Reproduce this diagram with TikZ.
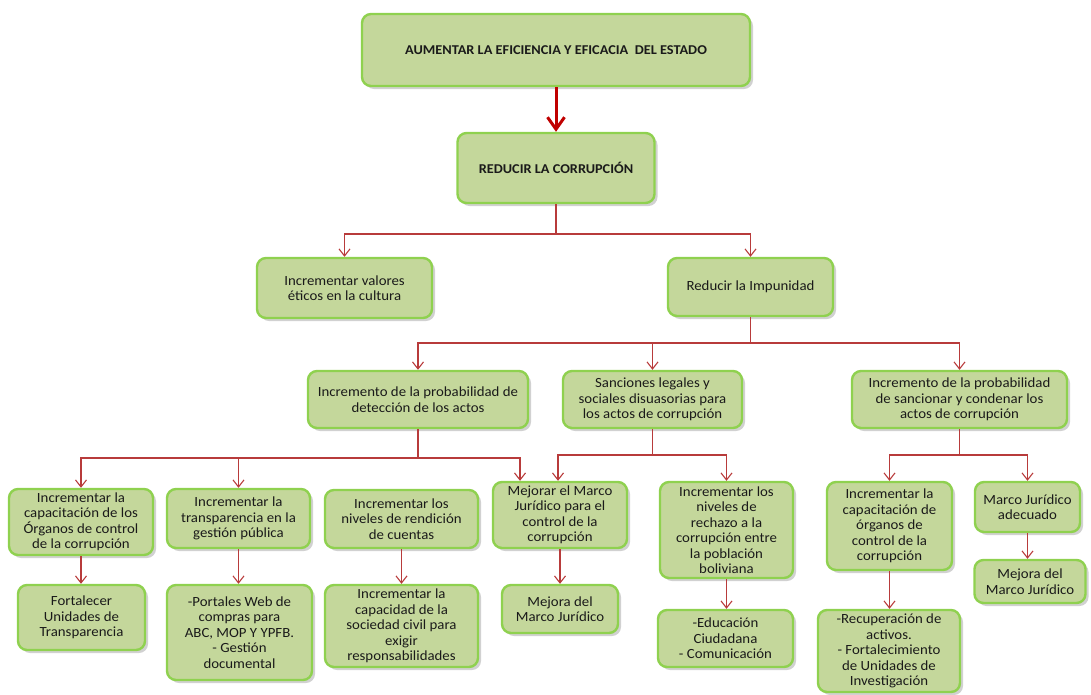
\documentclass[tikz,border=0pt]{standalone}
\usepackage{fontspec}
\setmainfont{Carlito}[FakeStretch=1.06]
\usetikzlibrary{arrows.meta,shadows}
\definecolor{boxfill}{HTML}{C4D79B}
\definecolor{boxline}{HTML}{8FD14F}
\definecolor{connred}{HTML}{B83B3B}
\definecolor{mainred}{HTML}{C00000}
\definecolor{txt}{HTML}{1A1A1A}
\tikzset{
  box/.style={draw=boxline, fill=boxfill, line width=2.4pt, rounded corners=9pt,
    align=center, inner sep=1pt, text=txt,
    font=\fontsize{14}{15.5}\selectfont,
    drop shadow={shadow xshift=3pt, shadow yshift=-3pt, opacity=0.3, fill=black!60}},
  titlebox/.style={box, font=\fontsize{13.5}{15}\selectfont\bfseries},
  wh/.style 2 args={minimum width=#1pt, minimum height=#2pt},
  conn/.style={draw=connred, line width=1.1pt,
    -{Straight Barb[length=7pt,width=11pt,line width=1.1pt]}},
  mainarrow/.style={draw=mainred, line width=3pt,
    -{Straight Barb[length=12pt,width=17pt,line width=3pt]}},
}
\begin{document}
\begin{tikzpicture}[x=1pt,y=-1pt]
\useasboundingbox (0,0) rectangle (1091,694);

% top levels
\node[titlebox, wh={388}{72}] (estado) at (556,50) {AUMENTAR LA EFICIENCIA Y EFICACIA\ \ DEL ESTADO};
\node[titlebox, wh={197}{70}] (corrup) at (556,168) {REDUCIR LA CORRUPCIÓN};

% second level
\node[box, wh={175}{60}] (valores) at (344.5,288) {Incrementar valores\\éticos en la cultura};
\node[box, wh={165}{58}] (impunidad) at (750.5,287) {Reducir la Impunidad};

% third level
\node[box, wh={220}{57}] (deteccion) at (418,399.5) {Incremento de la probabilidad de\\detección de los actos};
\node[box, wh={179}{57}] (sanciones) at (652.5,399.5) {Sanciones legales y\\sociales disuasorias para\\los actos de corrupción};
\node[box, wh={215}{57}] (sancionar) at (959.5,399.5) {Incremento de la probabilidad\\de sancionar y condenar los\\actos de corrupción};

% fourth level
\node[box, wh={144}{66}] (capac) at (81,522) {Incrementar la\\capacitación de los\\Órganos de control\\de la corrupción};
\node[box, wh={143}{59}] (transp) at (238.5,518.5) {Incrementar la\\transparencia en la\\gestión pública};
\node[box, wh={153}{58}] (rendic) at (401.5,519) {Incrementar los\\niveles de rendición\\de cuentas};
\node[box, wh={134}{66}] (mejorar) at (560,515) {Mejorar el Marco\\Jurídico para el\\control de la\\corrupción};
\node[box, wh={133}{96}] (rechazo) at (726.5,530) {Incrementar los\\niveles de\\rechazo a la\\corrupción entre\\la población\\boliviana};
\node[box, wh={125}{88}] (organos) at (889.5,526) {Incrementar la\\capacitación de\\órganos de\\control de la\\corrupción};
\node[box, wh={105}{50}] (adecuado) at (1027.5,507) {Marco Jurídico\\adecuado};

% fifth level
\node[box, wh={127}{65}] (fortal) at (81.5,617.5) {Fortalecer\\Unidades de\\Transparencia};
\node[box, wh={145}{95}] (portales) at (239.5,632.5) {-Portales Web de\\compras para\\ABC, MOP Y YPFB.\\- Gestión\\documental};
\node[box, wh={153}{82}] (capacidad) at (401.5,626) {Incrementar la\\capacidad de la\\sociedad civil para\\exigir\\responsabilidades};
\node[box, wh={116}{48}] (mejora) at (560,609) {Mejora del\\Marco Jurídico};
\node[box, wh={135}{57}] (educ) at (725.5,638.5) {-Educación\\Ciudadana\\- Comunicación};
\node[box, wh={142}{82}] (recup) at (889,651) {-Recuperación de\\activos.\\- Fortalecimiento\\de Unidades de\\Investigación};
\node[box, wh={111}{43}] (mejorab) at (1030,581.5) {Mejora del\\Marco Jurídico};

% connectors
\draw[mainarrow] (estado.south) -- (corrup.north);

\coordinate (b1) at (556,234);
\draw[conn] (corrup.south) -- (b1) -| (valores.north);
\draw[conn] (b1) -| (impunidad.north);

\coordinate (b2) at (750.5,343);
\draw[conn] (impunidad.south) -- (b2) -| (deteccion.north);
\draw[conn] (b2) -| (sanciones.north);
\draw[conn] (b2) -| (sancionar.north);

\coordinate (b3) at (418,458);
\draw[conn] (deteccion.south) -- (b3) -| (capac.north);
\draw[conn] (b3) -| (transp.north);
\draw[conn] (b3) -| ([xshift=-40pt]mejorar.north);

\coordinate (b4) at (652.5,455);
\draw[conn] (sanciones.south) -- (b4) -| ([xshift=-2pt]mejorar.north);
\draw[conn] (b4) -| (rechazo.north);

\coordinate (b5) at (959.5,455);
\draw[conn] (sancionar.south) -- (b5) -| (organos.north);
\draw[conn] (b5) -| (adecuado.north);

\draw[conn] (capac.south) -- (capac.south |- fortal.north);
\draw[conn] (transp.south) -- (transp.south |- portales.north);
\draw[conn] (rendic.south) -- (rendic.south |- capacidad.north);
\draw[conn] (mejorar.south) -- (mejorar.south |- mejora.north);
\draw[conn] (rechazo.south) -- (rechazo.south |- educ.north);
\draw[conn] (organos.south) -- (organos.south |- recup.north);
\draw[conn] (adecuado.south) -- (adecuado.south |- mejorab.north);
\end{tikzpicture}
\end{document}
